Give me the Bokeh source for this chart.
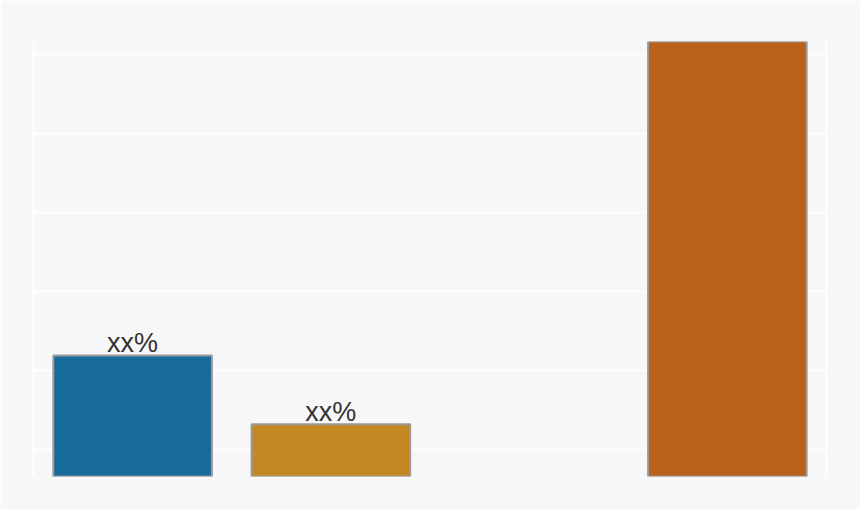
from bokeh.plotting import figure
from bokeh.models import ColumnDataSource, FactorRange, Range1d, FixedTicker, LinearAxis
from bokeh.core.properties import value
from bokeh.embed import file_html
from bokeh.resources import INLINE

# Data (arbitrary units, gridline spacing = 1)
categories = ["A", "B", "C", "D"]
values = [1.19, 0.32, None, 5.3]
labels = ["xx%", "xx%", "", ""]
colors = ["#176b9b", "#c38822", "#f7f7f7", "#b9601b"]
grid_ticks = [0, 1, 2, 3, 4, 5]

BG = "#f7f7f7"

bar_x = [c for c, v in zip(categories, values) if v is not None]
bar_top = [v for v in values if v is not None]
bar_col = [col for col, v in zip(colors, values) if v is not None]
bar_lab = [l for l, v in zip(labels, values) if v is not None]

src = ColumnDataSource(dict(x=bar_x, top=bar_top, color=bar_col, label=bar_lab))

p = figure(width=860, height=509, x_range=FactorRange(*categories),
           y_range=Range1d(-0.342, 5.165), output_backend="svg",
           toolbar_location=None, min_border_left=33, min_border_right=34,
           min_border_top=41, min_border_bottom=33)

p.background_fill_color = BG
p.border_fill_color = BG
p.outline_line_color = None

p.vbar(x="x", top="top", bottom=-1, width=0.8, source=src,
       fill_color="color", line_color="#9a9a9a", line_width=2)

p.text(x="x", y="top", text="label", source=src, text_align="center",
       text_baseline="alphabetic", y_offset=-12,
       text_font=value("Liberation Sans"), text_font_size="27px",
       text_color="#333333")

p.xaxis.visible = False
p.xgrid.visible = False

p.yaxis.ticker = FixedTicker(ticks=[])
p.ygrid.ticker = FixedTicker(ticks=grid_ticks)
p.ygrid.grid_line_color = "white"
p.ygrid.grid_line_width = 2

right_axis = LinearAxis(ticker=FixedTicker(ticks=[]))
p.add_layout(right_axis, "right")

for ax in p.yaxis:
    ax.axis_line_color = "white"
    ax.axis_line_width = 2
    ax.major_tick_line_color = None
    ax.minor_tick_line_color = None
    ax.major_label_standoff = 0

html = file_html(p, INLINE)
html = html.replace("<body>", '<body style="background-color:#f7f7f7;">', 1)
open("out.html", "w").write(html)
